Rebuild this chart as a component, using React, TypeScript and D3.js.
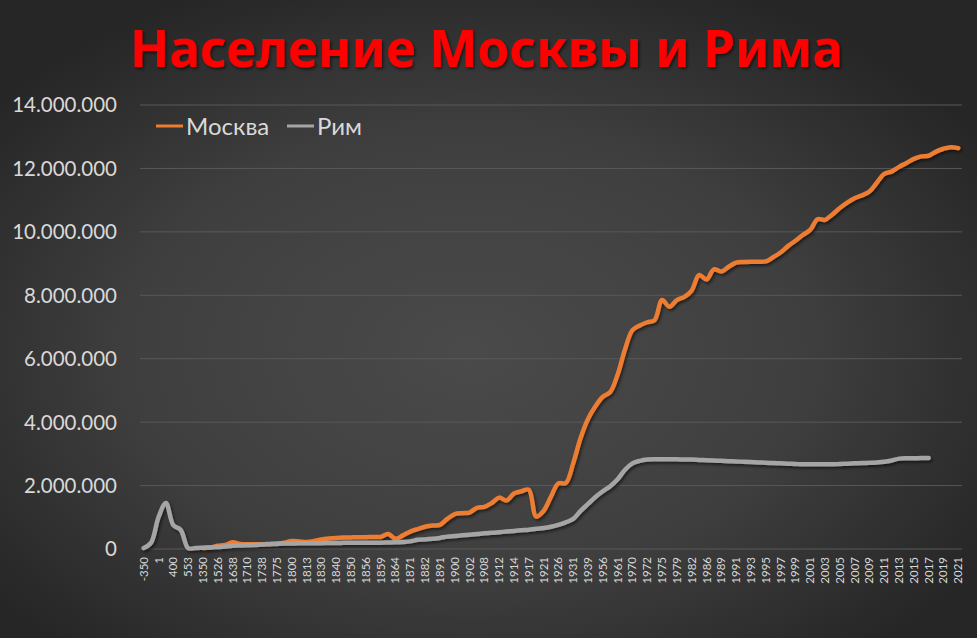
import React, { useEffect, useRef } from 'react'
import * as d3 from 'd3'

const years = [
  '-350', '-100', '1', '100', '400', '500', '553', '1000', '1350', '1400',
  '1526', '1600', '1638', '1700', '1710', '1725', '1738', '1750', '1775', '1790',
  '1800', '1811', '1813', '1825', '1830', '1835', '1840', '1845', '1850', '1852',
  '1856', '1858', '1859', '1862', '1864', '1868', '1871', '1880', '1882', '1887',
  '1891', '1897', '1900', '1901', '1902', '1905', '1908', '1910', '1912', '1913',
  '1914', '1915', '1917', '1920', '1921', '1923', '1926', '1928', '1931', '1935',
  '1939', '1950', '1956', '1959', '1961', '1965', '1970', '1971', '1972', '1973',
  '1975', '1977', '1979', '1980', '1982', '1984', '1986', '1987', '1989', '1990',
  '1991', '1992', '1993', '1994', '1995', '1996', '1997', '1998', '1999', '2000',
  '2001', '2002', '2003', '2004', '2005', '2006', '2007', '2008', '2009', '2010',
  '2011', '2012', '2013', '2014', '2015', '2016', '2017', '2018', '2019', '2020',
  '2021'
]

const moscow: (number | null)[] = [
  null, null, null, null, null, null, null, null, 30000, 50000,
  100000, 130000, 210000, 160000, 150000, 150000, 150000, 160000, 170000, 200000,
  250000, 240000, 220000, 250000, 300000, 330000, 350000, 360000, 365000, 370000,
  370000, 380000, 380000, 470000, 320000, 430000, 550000, 630000, 700000, 740000,
  760000, 950000, 1100000, 1130000, 1150000, 1300000, 1330000, 1450000, 1620000, 1530000,
  1750000, 1820000, 1870000, 1020000, 1200000, 1650000, 2070000, 2080000, 2700000, 3500000,
  4100000, 4500000, 4800000, 4950000, 5500000, 6300000, 6900000, 7050000, 7150000, 7220000,
  7850000, 7640000, 7850000, 7950000, 8150000, 8640000, 8500000, 8820000, 8750000, 8900000,
  9030000, 9050000, 9060000, 9060000, 9070000, 9200000, 9350000, 9550000, 9720000, 9900000,
  10060000, 10400000, 10380000, 10550000, 10750000, 10920000, 11060000, 11150000, 11270000, 11550000,
  11830000, 11900000, 12050000, 12170000, 12300000, 12380000, 12400000, 12530000, 12620000, 12670000,
  12640000
]

const rome: (number | null)[] = [
  30000, 200000, 1000000, 1450000, 750000, 600000, 30000, 30000, 40000, 50000,
  60000, 80000, 100000, 110000, 120000, 125000, 140000, 150000, 160000, 170000,
  175000, 180000, 180000, 185000, 185000, 190000, 190000, 195000, 195000, 195000,
  200000, 200000, 200000, 205000, 210000, 220000, 240000, 290000, 300000, 320000,
  350000, 390000, 410000, 430000, 450000, 470000, 495000, 510000, 530000, 550000,
  570000, 590000, 610000, 640000, 660000, 700000, 760000, 840000, 950000, 1200000,
  1420000, 1640000, 1820000, 1980000, 2200000, 2500000, 2700000, 2780000, 2820000, 2830000,
  2830000, 2830000, 2830000, 2820000, 2820000, 2810000, 2800000, 2790000, 2780000, 2770000,
  2760000, 2750000, 2740000, 2730000, 2720000, 2710000, 2700000, 2690000, 2680000, 2670000,
  2670000, 2670000, 2670000, 2670000, 2680000, 2690000, 2700000, 2710000, 2720000, 2730000,
  2750000, 2790000, 2850000, 2860000, 2860000, 2870000, 2870000, null, null, null,
  null
]

const yTicks = [0, 2000000, 4000000, 6000000, 8000000, 10000000, 12000000, 14000000]

const seriesNames = ['Москва', 'Рим']
const seriesColors = ['#ED7D31', '#A5A5A5']

const App: React.FC = () => {
  const chartRef = useRef<SVGSVGElement | null>(null)

  useEffect(() => {
    if (!chartRef.current) return
    const width = 977
    const height = 638
    const left = 140
    const right = 962
    const top = 105
    const bottom = 549

    const svg = d3.select(chartRef.current)
    svg.selectAll('*').remove()
    svg.attr('width', width).attr('height', height)

    const defs = svg.append('defs')
    const grad = defs.append('radialGradient')
      .attr('id', 'bg')
      .attr('cx', '48%')
      .attr('cy', '55%')
      .attr('r', '62%')
    grad.append('stop').attr('offset', '0%').attr('stop-color', '#4a4a4a')
    grad.append('stop').attr('offset', '55%').attr('stop-color', '#3f3f3f')
    grad.append('stop').attr('offset', '100%').attr('stop-color', '#262626')

    const shadow = defs.append('filter')
      .attr('id', 'shadow')
      .attr('x', '-5%').attr('y', '-5%')
      .attr('width', '110%').attr('height', '110%')
    shadow.append('feDropShadow')
      .attr('dx', 1.5).attr('dy', 2)
      .attr('stdDeviation', 1.5)
      .attr('flood-color', '#000')
      .attr('flood-opacity', 0.55)

    svg.append('rect')
      .attr('width', width).attr('height', height)
      .attr('fill', 'url(#bg)')

    const x = d3.scaleBand<string>().domain(years).range([left, right])
    const y = d3.scaleLinear().domain([0, 14000000]).range([bottom, top])
    const cx = (i: number) => (x(years[i]) as number) + x.bandwidth() / 2

    // gridlines
    svg.append('g')
      .selectAll('line')
      .data(yTicks)
      .enter()
      .append('line')
      .attr('x1', left).attr('x2', right)
      .attr('y1', d => y(d)).attr('y2', d => y(d))
      .attr('stroke', '#595959')
      .attr('stroke-width', 1)

    // y labels
    const fmt = (v: number) => d3.format(',')(v).replace(/,/g, '.')
    svg.append('g')
      .selectAll('text')
      .data(yTicks)
      .enter()
      .append('text')
      .attr('x', 117)
      .attr('y', d => y(d))
      .attr('dy', '0.36em')
      .attr('text-anchor', 'end')
      .style('font-family', 'Lato, sans-serif')
      .style('font-size', '20.5px')
      .style('fill', '#d9d9d9')
      .text(d => fmt(d))

    // x labels, every second category
    svg.append('g')
      .selectAll('text')
      .data(years.map((yr, i) => ({ yr, i })).filter(d => d.i % 2 === 0))
      .enter()
      .append('text')
      .attr('transform', d => `translate(${cx(d.i) + 4},557) rotate(-90)`)
      .attr('text-anchor', 'end')
      .style('font-family', 'Lato, sans-serif')
      .style('font-size', '11.5px')
      .style('fill', '#d9d9d9')
      .text(d => d.yr)

    const line = d3.line<number | null>()
      .defined(d => d !== null)
      .x((d, i) => cx(i))
      .y(d => y(d as number))
      .curve(d3.curveCatmullRom.alpha(0.5))

    const lines = svg.append('g').attr('filter', 'url(#shadow)')
    ;[moscow, rome].forEach((s, k) => {
      lines.append('path')
        .datum(s)
        .attr('d', line)
        .attr('fill', 'none')
        .attr('stroke', seriesColors[k])
        .attr('stroke-width', 4.5)
        .attr('stroke-linejoin', 'round')
        .attr('stroke-linecap', 'round')
    })

    // legend
    const legend = svg.append('g')
    const legendX = [156, 287]
    seriesNames.forEach((name, k) => {
      legend.append('line')
        .attr('x1', legendX[k]).attr('x2', legendX[k] + 27)
        .attr('y1', 126).attr('y2', 126)
        .attr('stroke', seriesColors[k])
        .attr('stroke-width', 3)
      legend.append('text')
        .attr('x', legendX[k] + 30)
        .attr('y', 126)
        .attr('dy', '0.36em')
        .style('font-family', 'Lato, sans-serif')
        .style('font-size', '24px')
        .style('fill', '#d9d9d9')
        .text(name)
    })

    // title
    svg.append('text')
      .attr('x', 130)
      .attr('y', 67)
      .attr('textLength', 713)
      .attr('lengthAdjust', 'spacingAndGlyphs')
      .style('font-family', '"Noto Sans", sans-serif')
      .style('font-weight', 'bold')
      .style('font-size', '52px')
      .style('fill', '#FF0000')
      .attr('filter', 'url(#shadow)')
      .text('Население Москвы и Рима')
  }, [])

  return <svg ref={chartRef} style={{ position: 'absolute', left: 0, top: 0 }}></svg>
}

export default App
